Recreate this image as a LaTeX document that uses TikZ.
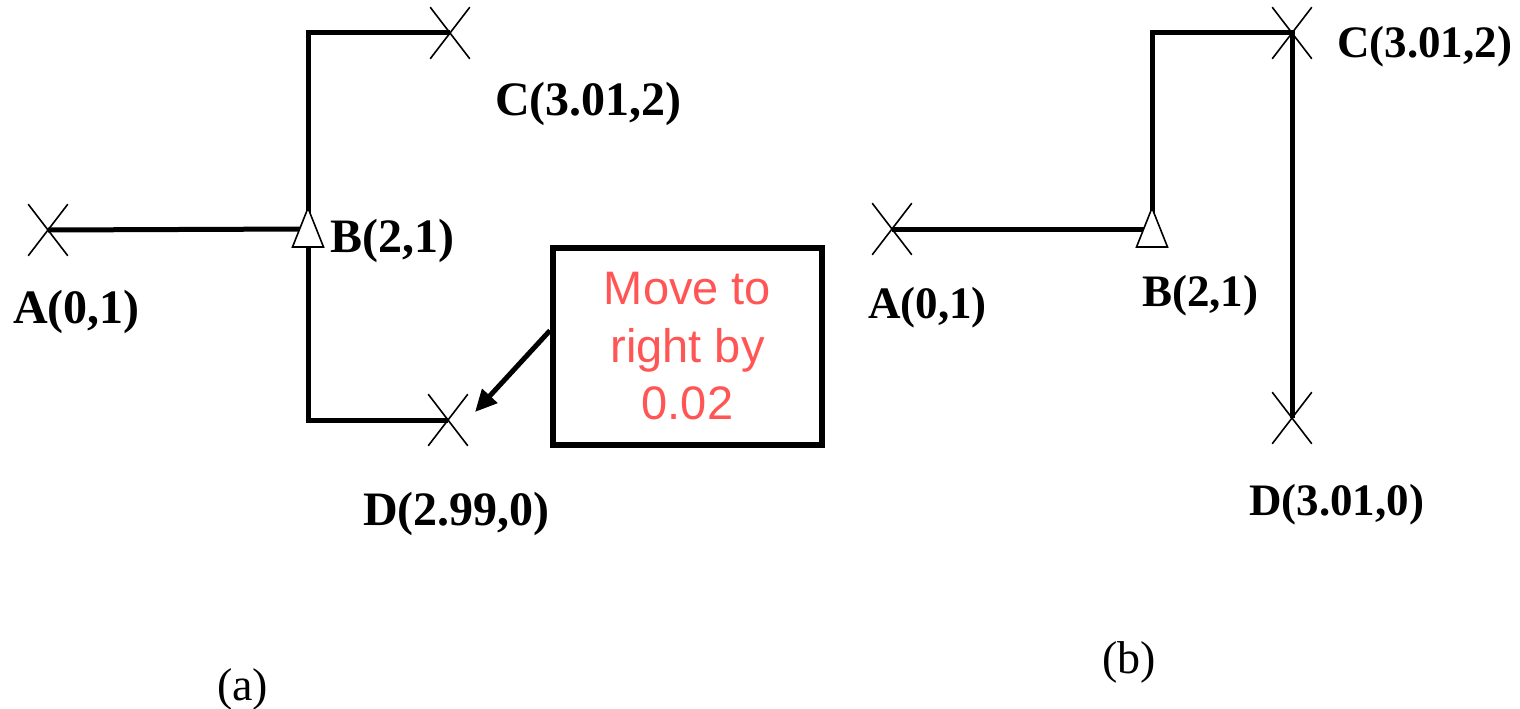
\documentclass[tikz,border=0pt]{standalone}
\usepackage{fontspec}
\usepackage{xcolor}
\usepackage{tikz}
\usetikzlibrary{arrows.meta, positioning, shapes.misc, calc}
\newfontfamily\lblfont{Liberation Serif}
\newfontfamily\notefont{Liberation Sans}
\definecolor{notered}{RGB}{255,85,85}

\begin{document}
\begin{tikzpicture}[x=1pt, y=-1pt,
    station/.style={cross out, draw, line width=1.6pt, minimum width=38pt,
      minimum height=50pt, inner sep=0pt},
    wire/.style={line width=5pt},
    hinge/.style={line width=1.6pt, fill=white},
    lbla/.style={anchor=base west, inner sep=0pt,
      font=\lblfont\bfseries\fontsize{48}{58}\selectfont},
    lblb/.style={anchor=base west, inner sep=0pt,
      font=\lblfont\bfseries\fontsize{45}{54}\selectfont},
    subcap/.style={anchor=base west, inner sep=0pt,
      font=\lblfont\fontsize{46}{55}\selectfont},
    pointer/.style={line width=5pt, -{Triangle[length=22pt, width=20pt]}}]
  \useasboundingbox (0,0) rectangle (1520,709);

  %--- (a): before the move ---
  \node[station] (A1) at (48,230) {};
  \node[station] (C1) at (450,33) {};
  \node[station] (D1) at (448,420) {};
  \coordinate (B1) at (308,229);
  \draw[wire] (A1.center) -- (B1);
  \draw[wire] (B1) |- (C1.center);
  \draw[wire] (B1) |- (D1.center);
  % support triangle
  \draw[hinge] (B1) ++(0,-21) -- ++(15.5,39) -- ++(-31,0) -- cycle;
  \node[lbla] (A1l) at (13,323) {A(0,1)};
  \node[lbla] (B1l) at (330,252) {B(2,1)};
  \node[lbla] (C1l) at (495,115) {C(3.01,2)};
  \node[lbla] (D1l) at (363,525) {D(2.99,0)};
  % note box
  \node[draw, line width=6pt, minimum width=269pt, minimum height=197pt,
    align=center, text=notered,
    font=\notefont\fontsize{47}{57.5}\selectfont] (note) at (687.5,346.5)
    {Move to\\right by\\0.02};
  \coordinate (tip) at (475,412);
  \draw[pointer] ([yshift=16pt]note.west) -- (tip);
  \node[subcap] (capa) at (217,700) {(a)};

  %--- (b): after the move ---
  \node[station] (A2) at (892,229) {};
  \node[station] (C2) at (1292,33) {};
  \node[station] (D2) at (1292,418) {};
  \coordinate (B2) at (1152,229);
  \draw[wire] (A2.center) -- (B2);
  \draw[wire] (B2) |- (C2.center) -- (D2.center);
  \draw[hinge] (B2) ++(0,-21) -- ++(15.5,39) -- ++(-31,0) -- cycle;
  \node[lblb] (A2l) at (868,318) {A(0,1)};
  \node[lblb] (B2l) at (1142,306) {B(2,1)};
  \node[lblb] (C2l) at (1337,58) {C(3.01,2)};
  \node[lblb] (D2l) at (1249,515) {D(3.01,0)};
  \node[subcap] (capb) at (1102,673) {(b)};
\end{tikzpicture}
\end{document}
